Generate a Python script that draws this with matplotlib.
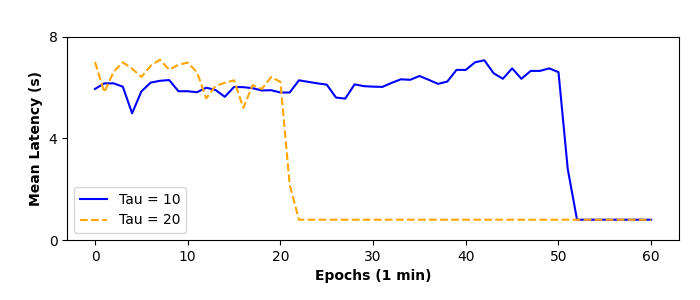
import numpy as np
import matplotlib
matplotlib.use("Agg")
import matplotlib.pyplot as plt

# ----- Data -----
epochs = np.arange(0, 61)

tau10 = [5.95, 6.17, 6.17, 6.04, 4.99, 5.85, 6.20, 6.27, 6.30, 5.86,
         5.86, 5.82, 6.00, 5.91, 5.64, 6.03, 6.02, 5.98, 5.89, 5.90,
         5.81, 5.81, 6.29, 6.23, 6.17, 6.12, 5.61, 5.57, 6.13, 6.06,
         6.04, 6.03, 6.19, 6.33, 6.31, 6.46, 6.31, 6.15, 6.24, 6.70,
         6.70, 7.00, 7.08, 6.57, 6.35, 6.76, 6.35, 6.66, 6.66, 6.76,
         6.61, 2.79, 0.80, 0.80, 0.80, 0.80, 0.80, 0.80, 0.80, 0.80,
         0.80]

tau20 = [7.01, 5.82, 6.62, 7.00, 6.75, 6.42, 6.86, 7.10, 6.71, 6.90,
         6.99, 6.61, 5.58, 6.07, 6.19, 6.29, 5.20, 6.10, 5.95, 6.42,
         6.23, 2.18] + [0.80] * 39

y_ticks = [0, 4, 8]

# ----- Figure -----
fig, ax = plt.subplots(figsize=(7, 3), dpi=100)
fig.subplots_adjust(left=0.096, right=0.97, top=0.877, bottom=0.2)

ax.plot(epochs, tau10, color='blue', lw=1.5, label='Tau = 10')
ax.plot(epochs, tau20, color='orange', lw=1.5, ls='--', label='Tau = 20')

ax.set_ylim(0, 8)
ax.set_yticks(y_ticks)
ax.set_xlabel("Epochs (1 min)", fontweight='bold')
ax.set_ylabel("Mean Latency (s)", fontweight='bold')
ax.legend(loc='lower left')

fig.savefig("out.png", dpi=100)
